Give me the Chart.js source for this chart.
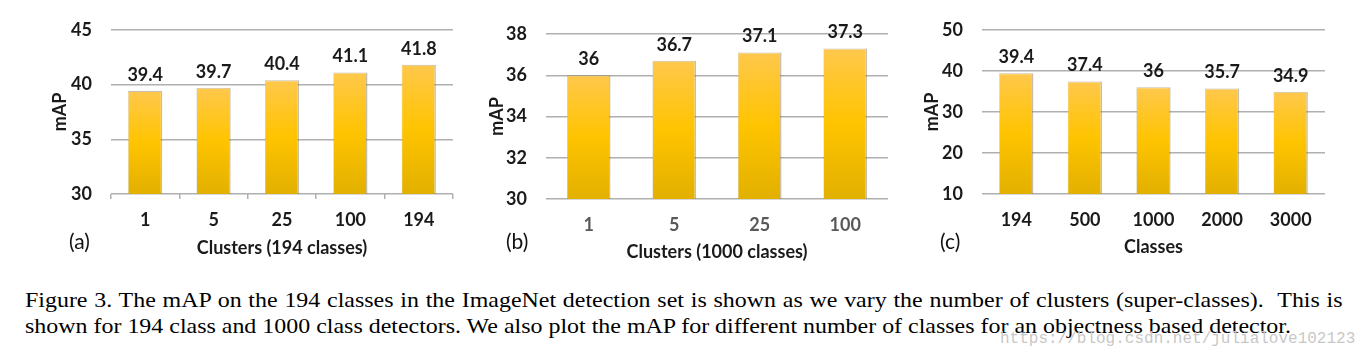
<!DOCTYPE html>
<html>
<head>
<meta charset="utf-8">
<script src="https://cdn.jsdelivr.net/npm/chart.js@4.4.0/dist/chart.umd.min.js"></script>
<style>
  body { margin:0; background:#fff; width:1364px; height:362px; overflow:hidden; position:relative; }
  canvas { position:absolute; top:0; }
  .tag { position:absolute; font-family:Lato, sans-serif; font-size:21px; line-height:24px; color:#111; }
  .cap { position:absolute; left:25px; width:1211px; font-family:"Liberation Serif", serif; font-size:22px; line-height:26px; color:#000; white-space:nowrap; transform:scaleX(1.088); transform-origin:0 0; }
  #cap1 { top:287px; text-align:justify; text-align-last:justify; white-space:normal; }
  #cap2 { top:313px; }
  #wm { position:absolute; left:1000px; top:331px; font-family:"Liberation Mono", monospace; font-size:16px; line-height:16px; color:#c8c8c8; }
</style>
</head>
<body>
<canvas id="chartA" width="460" height="265" style="left:0px"></canvas>
<canvas id="chartB" width="440" height="265" style="left:460px"></canvas>
<canvas id="chartC" width="464" height="265" style="left:900px"></canvas>
<div class="tag" style="left:69px;top:229px">(a)</div>
<div class="tag" style="left:506px;top:229px">(b)</div>
<div class="tag" style="left:940px;top:229px">(c)</div>
<div class="cap" id="cap1">Figure 3. The mAP on the 194 classes in the ImageNet detection set is shown as we vary the number of clusters (super-classes). &nbsp;This is</div>
<div class="cap" id="cap2">shown for 194 class and 1000 class detectors. We also plot the mAP for different number of classes for an objectness based detector.</div>
<div id="wm">https://blog.csdn.net/julialove102123</div>
<script>
// data
var clustersA = ["1", "5", "25", "100", "194"];
var mapA = [39.4, 39.7, 40.4, 41.1, 41.8];
var ticksA = [30, 45, 5];

var clustersB = ["1", "5", "25", "100"];
var mapB = [36, 36.7, 37.1, 37.3];
var ticksB = [30, 38, 2];

var classesC = ["194", "500", "1000", "2000", "3000"];
var mapC = [39.4, 37.4, 36, 35.7, 34.9];
var ticksC = [10, 50, 10];

Chart.defaults.font.family = "Lato, sans-serif";
Chart.defaults.font.weight = "bold";
Chart.defaults.color = "#1a1a1a";

var gridGray = "#b0b0b0";

// values above bars
var barLabels = {
  id: "barLabels",
  afterDatasetsDraw: function(chart) {
    var ctx = chart.ctx;
    var meta = chart.getDatasetMeta(0);
    ctx.save();
    ctx.font = "bold 18px Lato, sans-serif";
    ctx.fillStyle = "#1a1a1a";
    ctx.textAlign = "center";
    ctx.textBaseline = "middle";
    meta.data.forEach(function(bar, i) {
      ctx.fillText(String(chart.data.datasets[0].data[i]), bar.x, bar.y - 16);
    });
    ctx.restore();
  }
};

function barFill(c) {
  var chart = c.chart;
  var area = chart.chartArea;
  if (!area) return "#ffc000";
  var top = chart.scales.y.getPixelForValue(c.raw);
  var g = chart.ctx.createLinearGradient(0, top, 0, area.bottom);
  g.addColorStop(0, "#ffc84c");
  g.addColorStop(0.5, "#ffc400");
  g.addColorStop(1, "#e2b000");
  return g;
}

function makeChart(id, labels, values, yt, o) {
  new Chart(document.getElementById(id), {
    type: "bar",
    data: {
      labels: labels,
      datasets: [{
        data: values,
        backgroundColor: barFill,
        borderColor: "rgba(130,110,60,0.45)",
        borderWidth: {top: 1, right: 1.5, left: 0.5, bottom: 0},
        borderSkipped: false,
        barPercentage: o.bar,
        categoryPercentage: 1
      }]
    },
    options: {
      responsive: false,
      animation: false,
      events: [],
      layout: {padding: {left: 0, top: o.top, right: o.right, bottom: 0}},
      plugins: {legend: {display: false}, tooltip: {enabled: false}},
      scales: {
        x: {
          grid: {display: o.xTicks, drawOnChartArea: false, drawTicks: o.xTicks, tickLength: 5, color: gridGray, lineWidth: 1.5},
          border: {display: false},
          ticks: {padding: o.xTicks ? 10.2 : 15.2, color: o.xColor, font: {size: 18, weight: "bold"}},
          title: {display: true, text: o.xTitle, color: "#1a1a1a", font: {size: 18, weight: "bold"}, padding: {top: 0, bottom: o.xTitlePad}},
          afterFit: function(s) { s.height = o.xh; }
        },
        y: {
          min: yt[0],
          max: yt[1],
          grid: {color: gridGray, lineWidth: 1.5, drawTicks: false},
          border: {display: false},
          ticks: {stepSize: yt[2], padding: 19, color: "#1a1a1a", font: {size: 18, weight: "bold"}},
          title: {display: true, text: "mAP", color: "#1a1a1a", font: {size: 18, weight: "bold"}, padding: {top: o.yTitlePad, bottom: 0}},
          afterFit: function(s) { s.width = o.yw; }
        }
      }
    },
    plugins: [barLabels]
  });
}

makeChart("chartA", clustersA, mapA, ticksA, {bar: 0.5, top: 29, right: 7, xh: 71, yw: 111, xTicks: true, xColor: "#1a1a1a", xTitle: "Clusters (194 classes)", xTitlePad: 6.2, yTitlePad: 49.2});
makeChart("chartB", clustersB, mapB, ticksB, {bar: 0.51, top: 34, right: 12, xh: 66, yw: 86, xTicks: false, xColor: "#595959", xTitle: "Clusters (1000 classes)", xTitlePad: 2.2, yTitlePad: 26.2});
makeChart("chartC", classesC, mapC, ticksC, {bar: 0.5, top: 29, right: 39, xh: 71, yw: 82, xTicks: false, xColor: "#1a1a1a", xTitle: "Classes", xTitlePad: 7.2, yTitlePad: 21.2});
</script>
</body>
</html>
